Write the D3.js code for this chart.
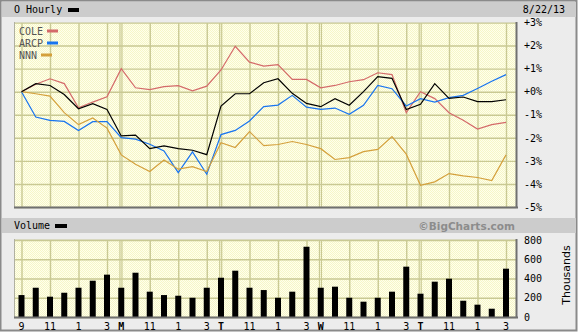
<!DOCTYPE html>
<html>
<head>
<meta charset="utf-8">
<script src="https://cdn.jsdelivr.net/npm/d3@7"></script>
<style>
  body { margin: 0; background: #fff; }
  text { font-family: "DejaVu Sans Mono", monospace; font-size: 10px; }
</style>
</head>
<body>
<div id="chart"></div>
<script>
// hourly points, 7 per day, Fri 8/16 .. Thu 8/22 (percent change)
const oPct   = [0, 0.35, 0.27, -0.12, -0.74, -0.52, -0.77,
                -1.92, -1.88, -2.47, -2.35, -2.47, -2.54, -2.73,
                -0.62, -0.09, -0.09, 0.39, 0.56, -0.07, -0.51,
                -0.65, -0.30, -0.59, 0.0, 0.65, 0.58, -0.77,
                -0.55, 0.35, -0.29, -0.23, -0.43, -0.43, -0.35];
const colePct = [0, 0.32, 0.56, 0.35, -0.70, -0.45, -0.22,
                 1.0, 0.17, 0.09, 0.22, 0.26, 0.04, 0.24,
                 0.94, 1.97, 1.28, 1.11, 1.17, 0.53, 0.53,
                 0.17, 0.27, 0.43, 0.52, 0.82, 0.74, -0.91,
                 0.0, -0.30, -0.91, -1.24, -1.62, -1.43, -1.33];
const arcpPct = [0, -1.10, -1.24, -1.29, -1.68, -1.30, -1.30,
                 -1.99, -2.06, -2.28, -2.57, -3.51, -2.61, -3.58,
                 -1.86, -1.68, -1.27, -0.65, -0.58, -0.16, -0.67,
                 -0.77, -0.71, -0.98, -0.59, 0.27, 0.13, -0.62,
                 -0.30, -0.45, -0.26, -0.16, 0.14, 0.45, 0.74];
const nnnPct = [0, -0.09, -0.19, -0.91, -1.43, -1.14, -1.58,
                -2.74, -3.15, -3.46, -2.96, -3.36, -3.25, -3.46,
                -2.21, -2.42, -1.73, -2.34, -2.29, -2.16, -2.29,
                -2.47, -2.94, -2.86, -2.60, -2.50, -1.95, -2.71,
                -4.06, -3.91, -3.55, -3.65, -3.72, -3.85, -2.74];
// volume, thousands
const volume = [228, 304, 211, 252, 304, 377, 440,
                304, 460, 263, 228, 221, 200, 304,
                408, 481, 304, 280, 200, 263, 730,
                304, 315, 200, 159, 200, 263, 523,
                242, 367, 398, 169, 128, 86, 502];

const tickIdx    = [0, 2, 4, 6, 7, 9, 11, 13, 14, 16, 18, 20, 21, 23, 25, 27, 28, 30, 32, 34];
const tickLabels = ['9', '11', '1', '3', 'M', '11', '1', '3', 'T', '11', '1', '3',
                    'W', '11', '1', '3', 'T', '11', '1', '3'];
const dayIdx = [7, 14, 21, 28];
const pctTicks = [3, 2, 1, 0, -1, -2, -3, -4, -5];
const volTicks = [0, 200, 400, 600, 800];

const legend = [
    {name: 'COLE', values: colePct, color: '#d46a6a', sw: 47},
    {name: 'ARCP', values: arcpPct, color: '#1874f0', sw: 47},
    {name: 'NNN',  values: nnnPct,  color: '#d4a03c', sw: 41}
];

const W = 579, H = 335;
const plot = {left: 14, right: 516, top: 22, bottom: 207};
const vplot = {left: 14, right: 516, top: 239, bottom: 317};
const gridColor = '#c9c993';

const svg = d3.select('#chart').append('svg')
    .attr('width', W)
    .attr('height', H);

// dither pattern for the yellow panes
const pat = svg.append('defs').append('pattern')
    .attr('id', 'dither')
    .attr('width', 2).attr('height', 2)
    .attr('patternUnits', 'userSpaceOnUse');
pat.append('rect').attr('width', 2).attr('height', 2).attr('fill', '#ffffec');
pat.append('rect').attr('width', 1).attr('height', 1).attr('fill', '#f6f6c8');
pat.append('rect').attr('x', 1).attr('y', 1).attr('width', 1).attr('height', 1).attr('fill', '#f6f6c8');

// outer frame + header bars
svg.append('rect')
    .attr('x', 0.5).attr('y', 0.5)
    .attr('width', 576).attr('height', 330)
    .attr('fill', '#ececec')
    .attr('stroke', '#8a8a8a')
    .attr('stroke-width', 2);

svg.append('rect').attr('x', 2).attr('y', 2).attr('width', 574).attr('height', 15).attr('fill', '#cccccc');
svg.append('rect').attr('x', 2).attr('y', 218).attr('width', 574).attr('height', 15).attr('fill', '#cccccc');

svg.append('text').attr('x', 14).attr('y', 13).text('O Hourly');
svg.append('rect').attr('x', 68).attr('y', 8).attr('width', 11).attr('height', 4).attr('fill', '#000');
svg.append('text').attr('x', 565).attr('y', 13).attr('text-anchor', 'end').text('8/22/13');

svg.append('text').attr('x', 14).attr('y', 229).text('Volume');
svg.append('rect').attr('x', 55).attr('y', 224).attr('width', 12).attr('height', 4).attr('fill', '#000');
svg.append('text')
    .attr('x', 515).attr('y', 229.5)
    .attr('text-anchor', 'end')
    .style('font-family', '"DejaVu Sans", sans-serif')
    .style('font-size', '10.5px')
    .style('font-weight', 'bold')
    .attr('fill', '#8c8c8c')
    .text('\u00a9BigCharts.com');

// scales
const x = d3.scaleLinear().domain([0, 34]).range([21.5, 506]);
const y = d3.scaleLinear().domain([-5, 3]).range([plot.bottom, plot.top + 0.5]);
const yv = d3.scaleLinear().domain([0, 800]).range([vplot.bottom, vplot.top + 1]);

function pane(p, yScale, yTicks, fmt) {
    const g = svg.append('g');
    g.append('rect')
        .attr('x', p.left).attr('y', p.top)
        .attr('width', p.right - p.left).attr('height', p.bottom - p.top)
        .attr('fill', 'url(#dither)');

    // horizontal grid
    g.append('g')
        .attr('transform', 'translate(' + p.left + ',0)')
        .call(d3.axisRight(yScale).tickValues(yTicks).tickSize(p.right - p.left).tickFormat(''))
        .call(a => a.select('.domain').remove())
        .selectAll('line').attr('stroke', gridColor).attr('stroke-width', 1.4);

    // vertical grid
    g.append('g')
        .attr('transform', 'translate(0,' + p.top + ')')
        .call(d3.axisBottom(x).tickValues(tickIdx.filter(d => dayIdx.indexOf(d) < 0))
            .tickSize(p.bottom - p.top).tickFormat(''))
        .call(a => a.select('.domain').remove())
        .selectAll('line').attr('stroke', gridColor).attr('stroke-width', 1.4);

    // day separators, double line
    g.selectAll('.day')
        .data(dayIdx.flatMap(d => [x(d) - 1.3, x(d) + 0.7]))
        .enter().append('line')
        .attr('x1', d => d).attr('x2', d => d)
        .attr('y1', p.top).attr('y2', p.bottom)
        .attr('stroke', gridColor).attr('stroke-width', 1.2);

    // right axis labels
    svg.append('g')
        .attr('transform', 'translate(' + (p.right + 8) + ',0)')
        .call(d3.axisRight(yScale).tickValues(yTicks).tickSize(0).tickPadding(0).tickFormat(fmt))
        .call(a => a.select('.domain').remove())
        .selectAll('text')
        .style('font-family', '"DejaVu Sans Mono", monospace')
        .style('font-size', '10px')
        .attr('fill', '#000');
    return g;
}

function borders(p) {
    svg.append('line').attr('x1', p.left).attr('x2', p.right).attr('y1', p.top + 0.5).attr('y2', p.top + 0.5)
        .attr('stroke', '#d8d8c0');
    svg.append('line').attr('x1', p.left + 0.5).attr('x2', p.left + 0.5).attr('y1', p.top).attr('y2', p.bottom)
        .attr('stroke', '#b0b0a0');
    svg.append('line').attr('x1', p.left).attr('x2', p.right + 2).attr('y1', p.bottom + 0.5).attr('y2', p.bottom + 0.5)
        .attr('stroke', '#707070').attr('stroke-width', 2);
    svg.append('line').attr('x1', p.right + 0.5).attr('x2', p.right + 0.5).attr('y1', p.top).attr('y2', p.bottom + 1)
        .attr('stroke', '#707070').attr('stroke-width', 2);
}

pane(plot, y, pctTicks, d => (d < 0 ? '-' : '+') + Math.abs(d) + '%');
pane(vplot, yv, volTicks, d => d);

// price lines
const line = d3.line().x((d, i) => x(i)).y(d => y(d));
legend.forEach(s => {
    svg.append('path')
        .datum(s.values)
        .attr('fill', 'none')
        .attr('stroke', s.color)
        .attr('stroke-width', 1.2)
        .attr('d', line);
});
svg.append('path')
    .datum(oPct)
    .attr('fill', 'none')
    .attr('stroke', '#000')
    .attr('stroke-width', 1.2)
    .attr('d', line);

// legend
legend.forEach((s, i) => {
    svg.append('text')
        .attr('x', 19).attr('y', 35 + i * 12)
        .attr('fill', '#555')
        .text(s.name);
    svg.append('rect')
        .attr('x', s.sw).attr('y', 29.5 + i * 12)
        .attr('width', 11).attr('height', 3)
        .attr('fill', s.color);
});

// volume bars
svg.selectAll('.bar')
    .data(volume)
    .enter().append('rect')
    .attr('class', 'bar')
    .attr('x', (d, i) => x(i) - 3)
    .attr('y', d => yv(d))
    .attr('width', 6)
    .attr('height', d => vplot.bottom - yv(d))
    .attr('fill', '#000');

borders(plot);
borders(vplot);

// time labels
svg.selectAll('.xlab')
    .data(tickIdx)
    .enter().append('text')
    .attr('class', 'xlab')
    .attr('x', d => x(d))
    .attr('y', 330)
    .attr('text-anchor', 'middle')
    .style('font-weight', d => dayIdx.indexOf(d) >= 0 ? 'bold' : 'normal')
    .text((d, i) => tickLabels[i]);

svg.append('text')
    .attr('transform', 'translate(570,275) rotate(-90)')
    .attr('text-anchor', 'middle')
    .style('font-family', '"DejaVu Sans", sans-serif')
    .style('font-size', '11px')
    .text('Thousands');
</script>
</body>
</html>
